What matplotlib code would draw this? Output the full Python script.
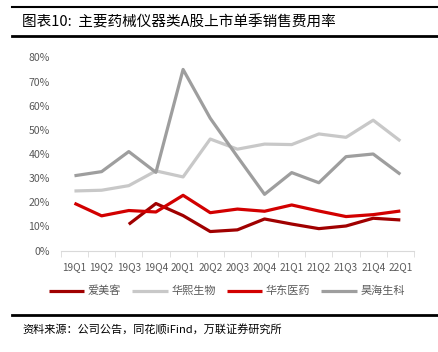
import numpy as np
import matplotlib.pyplot as plt
from matplotlib.lines import Line2D

plt.rcParams['font.family'] = ['Noto Sans CJK SC', 'DejaVu Sans']

quarters = ["19Q1", "19Q2", "19Q3", "19Q4", "20Q1", "20Q2", "20Q3",
            "20Q4", "21Q1", "21Q2", "21Q3", "21Q4", "22Q1"]

aimeike = [np.nan, np.nan, 10.9, 19.5, 14.5, 7.9, 8.6, 13.1, 11.0, 9.1, 10.2, 13.4, 12.7]
huaxi = [24.7, 25.0, 26.9, 33.0, 30.5, 46.2, 42.0, 44.1, 43.9, 48.3, 46.9, 54.0, 45.4]
huadong = [19.6, 14.4, 16.6, 16.0, 22.9, 15.7, 17.2, 16.3, 18.9, 16.4, 14.1, 14.9, 16.4]
haohai = [31.0, 32.7, 41.0, 32.4, 75.0, 54.8, 38.9, 23.3, 32.3, 28.1, 38.9, 40.0, 31.6]

series = [("爱美客", aimeike, "#A00000"),
          ("华熙生物", huaxi, "#C8C8C8"),
          ("华东医药", huadong, "#D20000"),
          ("昊海生科", haohai, "#9E9E9E")]

fig = plt.figure(figsize=(4.38, 3.52), dpi=100)
ax = fig.add_axes([0.139, 0.288, 0.806, 0.549])

x = np.arange(len(quarters))
for name, vals, col in series:
    ax.plot(x, np.array(vals) / 100, color=col, lw=2.3, label=name, solid_capstyle='butt')

ax.set_xlim(-0.5, len(quarters) - 0.5)
ax.set_ylim(0, 0.8)
ax.set_yticks(np.arange(0, 0.81, 0.1))
ax.set_yticklabels([f"{int(round(v * 100))}%" for v in np.arange(0, 0.81, 0.1)])
ax.set_xticks(x)
ax.set_xticklabels(quarters)
ax.set_xticks(np.arange(-0.5, len(quarters)), minor=True)
ax.tick_params(axis='x', which='major', length=0, labelsize=7.2, colors='#595959', pad=8)
ax.tick_params(axis='x', which='minor', length=4, color='#D9D9D9', direction='out')
ax.tick_params(axis='y', length=0, labelsize=7.6, colors='#595959', pad=8)
for s in ['top', 'right', 'left']:
    ax.spines[s].set_visible(False)
ax.spines['bottom'].set_color('#D9D9D9')

leg = ax.legend(loc='upper center', bbox_to_anchor=(0.47, -0.13), ncol=4, frameon=False,
                fontsize=8, handlelength=3.2, handletextpad=0.3, columnspacing=1.0)
for t in leg.get_texts():
    t.set_color('#595959')

# title block
fig.add_artist(Line2D([12 / 438, 1], [1 - 7 / 352] * 2, color='black', lw=1.5))
fig.add_artist(Line2D([12 / 438, 1], [1 - 36 / 352] * 2, color='black', lw=2))
fig.text(22 / 438, 1 - 22 / 352, "图表10:  主要药械仪器类A股上市单季销售费用率",
         fontsize=10.5, va='center', ha='left', color='black')

# source block
fig.add_artist(Line2D([12 / 438, 1], [1 - 315 / 352] * 2, color='black', lw=2))
fig.text(22 / 438, 1 - 330 / 352, "资料来源：公司公告，同花顺iFind，万联证券研究所",
         fontsize=8, va='center', ha='left', color='black', style='italic')

fig.savefig("out.png", dpi=100)
